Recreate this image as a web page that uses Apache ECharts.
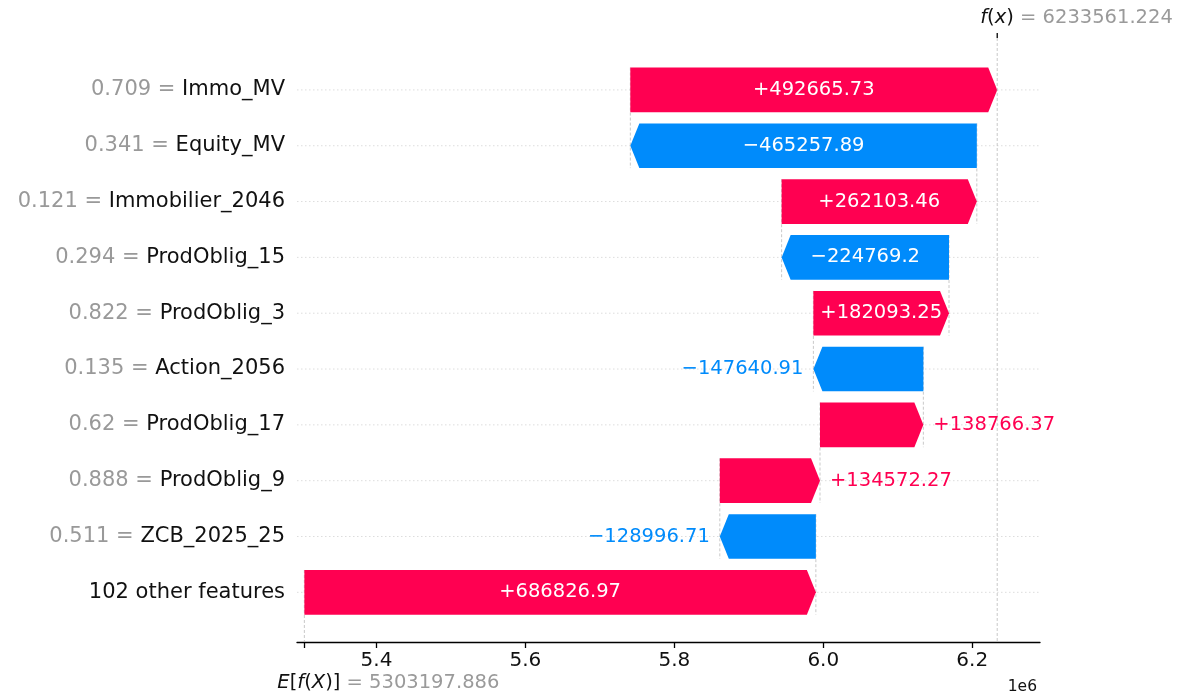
<!DOCTYPE html>
<html>
<head>
<meta charset="utf-8">
<title>SHAP waterfall</title>
<script src="https://cdn.jsdelivr.net/npm/echarts@6/dist/echarts.min.js"></script>
<style>
  html, body { margin: 0; padding: 0; background: #fff; }
  #main { width: 1180px; height: 695px; }
</style>
</head>
<body>
<div id="main"></div>
<script>
// rows listed top to bottom, as in the picture
const featureNames = ["Immo_MV", "Equity_MV", "Immobilier_2046", "ProdOblig_15", "ProdOblig_3",
  "Action_2056", "ProdOblig_17", "ProdOblig_9", "ZCB_2025_25", "102 other features"];
const featureValues = ["0.709", "0.341", "0.121", "0.294", "0.822", "0.135", "0.62", "0.888", "0.511", null];
const shapValues = [492665.73, -465257.89, 262103.46, -224769.2, 182093.25,
  -147640.91, 138766.37, 134572.27, -128996.71, 686826.97];
const baseValue = 5303197.886;
const fxValue = 6233561.224;
const xTicks = [5400000, 5600000, 5800000, 6000000, 6200000];

const RED = "#ff0051";
const BLUE = "#008bfb";
const FONT = '"DejaVu Sans", sans-serif';
const X_MIN = 5293300, X_MAX = 6291000;
const Y_MIN = -0.93, Y_MAX = 9.89;

// bars are stacked from the base value upward (bottom row first)
let loc = baseValue;
const bars = [];
for (let r = featureNames.length - 1; r >= 0; r--) {
  bars[r] = [r, loc, loc + shapValues[r]];
  loc += shapValues[r];
}

const measureCtx = document.createElement("canvas").getContext("2d");
function textWidth(str, size) {
  measureCtx.font = size + "px " + FONT;
  return measureCtx.measureText(str).width;
}
function fmt(v) {
  return (v >= 0 ? "+" : "\u2212") + Math.abs(v);
}

function renderLines(params, api) {
  const r = api.value(0);
  const s = api.value(1);
  const left = api.coord([X_MIN, r]);
  const right = api.coord([X_MAX, r]);
  const c0 = api.coord([s, r - 0.4]);
  const c1 = api.coord([s, Math.min(r + 1.4, Y_MAX)]);
  return {
    type: "group",
    children: [
      {
        type: "line",
        shape: { x1: left[0], y1: left[1], x2: right[0], y2: right[1] },
        style: { stroke: "#dddddd", lineWidth: 1, lineDash: [1.5, 2.5] }
      },
      {
        type: "line",
        shape: { x1: c0[0], y1: c0[1], x2: c1[0], y2: c1[1] },
        style: { stroke: "#bbbbbb", lineWidth: 0.8, lineDash: [3, 2] }
      }
    ]
  };
}

function renderBar(params, api) {
  const r = api.value(0);
  const s = api.value(1), e = api.value(2);
  const v = shapValues[r];
  const p0 = api.coord([s, r]);
  const p1 = api.coord([e, r]);
  const band = api.size([0, 1])[1];
  const h = band * 0.8;
  const mid = p0[1], top = mid - h / 2, bot = mid + h / 2;
  const dir = e >= s ? 1 : -1;
  const w = Math.abs(p1[0] - p0[0]);
  const hl = Math.min(9, w);
  const color = v >= 0 ? RED : BLUE;

  const label = fmt(v);
  const inside = textWidth(label, 19.5) < w;
  const valueText = inside
    ? { x: (p0[0] + p1[0]) / 2, y: mid, text: label, align: "center", fill: "#fff" }
    : { x: p1[0] + dir * 10, y: mid, text: label, align: dir > 0 ? "left" : "right", fill: color };

  const lx = api.coord([X_MIN, r])[0] - 12;
  const name = featureValues[r] === null
    ? "{n|" + featureNames[r] + "}"
    : "{v|" + featureValues[r] + " = }{n|" + featureNames[r] + "}";

  return {
    type: "group",
    children: [
      {
        type: "polygon",
        shape: {
          points: [[p0[0], top], [p1[0] - dir * hl, top], [p1[0], mid],
            [p1[0] - dir * hl, bot], [p0[0], bot]]
        },
        style: { fill: color }
      },
      {
        type: "text",
        style: Object.assign(valueText, {
          verticalAlign: "middle", fontSize: 19.5, fontFamily: FONT
        })
      },
      {
        type: "text",
        style: {
          x: lx, y: mid, text: name, align: "right", verticalAlign: "middle",
          fontFamily: FONT, fontSize: 21,
          rich: {
            v: { fill: "#999999", fontSize: 21, fontFamily: FONT },
            n: { fill: "#111111", fontSize: 21, fontFamily: FONT }
          }
        }
      }
    ]
  };
}

function renderNotes(params, api) {
  const t = api.coord([fxValue, Y_MIN]);
  const b = api.coord([fxValue, Y_MAX]);
  const base = api.coord([baseValue, Y_MAX]);
  const end = api.coord([X_MAX, Y_MAX]);
  const it = { fill: "#111", fontStyle: "italic", fontSize: 19.5, fontFamily: FONT };
  const up = { fill: "#111", fontSize: 19.5, fontFamily: FONT };
  const gr = { fill: "#9a9a9a", fontSize: 19.5, fontFamily: FONT };
  return {
    type: "group",
    children: [
      {
        type: "line",
        shape: { x1: t[0], y1: t[1], x2: b[0], y2: b[1] },
        style: { stroke: "#bbbbbb", lineWidth: 0.8, lineDash: [3, 2] }
      },
      {
        type: "line",
        shape: { x1: t[0], y1: t[1] - 5, x2: t[0], y2: t[1] },
        style: { stroke: "#000", lineWidth: 1.3 }
      },
      {
        type: "text",
        style: {
          x: t[0] - 17, y: t[1] - 20, align: "left", verticalAlign: "middle",
          text: "{i|f}{u|(}{i|x}{u|)}{g| = " + fxValue.toFixed(3) + "}",
          rich: { i: it, u: up, g: gr }
        }
      },
      {
        type: "text",
        style: {
          x: base[0] - 27, y: base[1] + 41, align: "left", verticalAlign: "middle",
          text: "{i|E}{u|[}{i|f}{u|(}{i|X}{u|)]}{g| = " + baseValue.toFixed(3) + "}",
          rich: { i: it, u: up, g: gr }
        }
      },
      {
        type: "text",
        style: {
          x: end[0] - 3, y: end[1] + 45, align: "right", verticalAlign: "middle",
          text: "1e6", fill: "#111", fontSize: 15.5, fontFamily: FONT
        }
      }
    ]
  };
}

const chart = echarts.init(document.getElementById("main"), null, { renderer: "canvas" });
chart.setOption({
  backgroundColor: "#fff",
  animation: false,
  grid: { left: 297, right: 140, top: 38, bottom: 53 },
  xAxis: {
    type: "value",
    min: X_MIN,
    max: X_MAX,
    splitLine: { show: false },
    axisLine: { show: true, onZero: false, lineStyle: { color: "#000", width: 1.3 } },
    axisTick: {
      show: true, length: 6, lineStyle: { color: "#000", width: 1.3 },
      customValues: [baseValue].concat(xTicks)
    },
    axisLabel: {
      customValues: xTicks,
      formatter: v => (v / 1e6).toFixed(1),
      color: "#111", fontSize: 20, fontFamily: FONT, margin: 9
    }
  },
  yAxis: {
    type: "value",
    inverse: true,
    min: Y_MIN,
    max: Y_MAX,
    axisLine: { show: false },
    axisTick: { show: false },
    axisLabel: { show: false },
    splitLine: { show: false }
  },
  series: [
    {
      type: "custom", z: 1, clip: false,
      renderItem: renderLines,
      encode: { x: [1, 2], y: 0 },
      data: bars
    },
    {
      type: "custom", z: 2, clip: false,
      renderItem: renderBar,
      encode: { x: [1, 2], y: 0 },
      data: bars
    },
    {
      type: "custom", z: 3, clip: false,
      renderItem: renderNotes,
      data: [[fxValue, 0]]
    }
  ]
});
</script>
</body>
</html>
